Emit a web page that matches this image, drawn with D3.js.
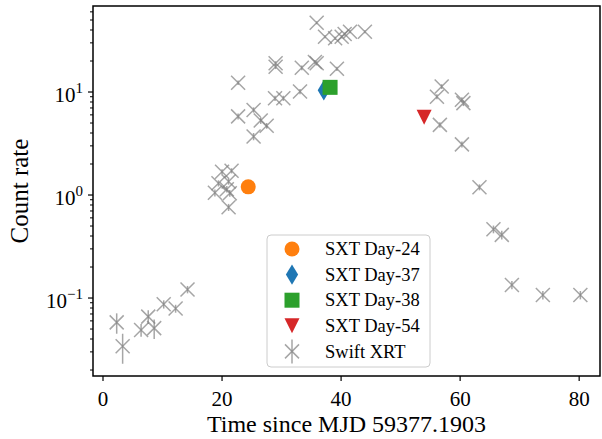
<!DOCTYPE html>
<html>
<head>
<meta charset="utf-8">
<script src="https://cdn.jsdelivr.net/npm/d3@7"></script>
<style>
  html, body { margin: 0; padding: 0; background: #fff; }
  svg { display: block; }
  text { font-family: "Liberation Serif", "Times New Roman", serif; fill: #000; }
</style>
</head>
<body>
<div id="chart"></div>
<script>
// ---- data ----
const swiftTime = [2.3, 3.3, 6.4, 7.6, 8.6, 10.2, 12.2, 14.2,
  18.8, 19.4, 20.0, 20.8, 21.1, 21.3, 21.6, 21.1,
  22.7, 22.7, 25.3, 25.3, 26.5, 27.5, 28.9, 30.3, 33.1,
  29.0, 29.0, 33.4, 35.6, 35.9, 39.3,
  35.9, 37.3, 39.0, 40.1, 40.6, 41.5, 44.0,
  56.9, 56.1, 60.3, 60.55, 56.6, 60.3, 63.25,
  65.6, 67.0, 68.7, 73.9, 80.2];
const swiftRate = [0.058, 0.034, 0.049, 0.066, 0.051, 0.087, 0.079, 0.121,
  1.05, 1.30, 1.68, 1.14, 1.35, 1.04, 1.72, 0.76,
  12.3, 5.8, 6.7, 3.7, 5.3, 4.7, 8.7, 8.7, 10.1,
  19.0, 17.6, 17.2, 19.6, 19.0, 16.8,
  47.0, 34.4, 33.2, 34.4, 36.5, 38.5, 38.5,
  11.3, 9.0, 8.4, 7.8, 4.8, 3.1, 1.19,
  0.465, 0.41, 0.134, 0.107, 0.107];
const swiftErr = [0.013, 0.011, 0.007, 0.010, 0.011, 0.008, 0.007, 0.010,
  0.08, 0.09, 0.10, 0.08, 0.09, 0.08, 0.10, 0.06,
  0.6, 0.4, 0.4, 0.3, 0.4, 0.3, 0.5, 0.5, 0.6,
  0.9, 0.9, 0.9, 0.9, 0.9, 0.8,
  1.5, 1.2, 1.2, 1.2, 1.2, 1.3, 1.3,
  0.6, 0.5, 0.5, 0.5, 0.3, 0.2, 0.08,
  0.04, 0.04, 0.012, 0.010, 0.010];

const sxtLabels = ["SXT Day-24", "SXT Day-37", "SXT Day-38", "SXT Day-54"];
const sxtTime = [24.4, 37.1, 38.15, 53.95];
const sxtRate = [1.2, 10.4, 11.1, 5.7];
const swiftLabel = "Swift XRT";

const xTicks = [0, 20, 40, 60, 80];
const yTickExps = [-1, 0, 1];
const xLabel = "Time since MJD 59377.1903";
const yLabel = "Count rate";

// ---- styles ----
const sxtColors = ["#ff7f0e", "#1f77b4", "#2ca02c", "#d62728"];
const sxtShapes = ["circle", "thin_diamond", "square", "triangle_down"];

const W = 602, H = 439;
const M = { left: 93, right: 600, top: 6, bottom: 376 };

const svg = d3.select("#chart").append("svg")
  .attr("width", W).attr("height", H);

const x = d3.scaleLinear().domain([-1.68, 83.5]).range([M.left, M.right]);
const y = d3.scaleLog().domain([Math.pow(10, -1.757), Math.pow(10, 1.835)]).range([M.bottom, M.top]);

// ---- marker drawing ----
const MS = 15;
function drawMarker(g, shape, cx, cy, color) {
  const s = MS;
  if (shape === "circle") {
    g.append("circle").attr("cx", cx).attr("cy", cy).attr("r", s / 2).attr("fill", color);
  } else if (shape === "square") {
    g.append("rect").attr("x", cx - s / 2).attr("y", cy - s / 2)
      .attr("width", s).attr("height", s).attr("fill", color);
  } else if (shape === "thin_diamond") {
    const h = s * 0.68, w = h * 0.6;
    g.append("path").attr("d", `M${cx},${cy - h} L${cx + w},${cy} L${cx},${cy + h} L${cx - w},${cy} Z`)
      .attr("fill", color);
  } else if (shape === "triangle_down") {
    const h = s / 2;
    g.append("path").attr("d", `M${cx - h},${cy - h} L${cx + h},${cy - h} L${cx},${cy + h} Z`)
      .attr("fill", color);
  }
}
function drawX(g, cx, cy) {
  const h = 7;
  g.append("path")
    .attr("d", `M${cx - h},${cy - h} L${cx + h},${cy + h} M${cx - h},${cy + h} L${cx + h},${cy - h}`)
    .attr("stroke", "#808080").attr("stroke-opacity", 0.7).attr("stroke-width", 1.5).attr("fill", "none");
}

// ---- SXT points ----
const gSxt = svg.append("g");
sxtTime.forEach((t, i) => drawMarker(gSxt, sxtShapes[i], x(t), y(sxtRate[i]), sxtColors[i]));

// ---- Swift points with error bars ----
const gSw = svg.append("g");
swiftTime.forEach((t, i) => {
  const v = swiftRate[i], e = swiftErr[i];
  gSw.append("line")
    .attr("x1", x(t)).attr("x2", x(t))
    .attr("y1", y(v - e)).attr("y2", y(v + e))
    .attr("stroke", "#808080").attr("stroke-opacity", 0.7).attr("stroke-width", 1.5);
  drawX(gSw, x(t), y(v));
});

// ---- frame ----
svg.append("rect")
  .attr("x", M.left).attr("y", M.top)
  .attr("width", M.right - M.left).attr("height", M.bottom - M.top)
  .attr("fill", "none").attr("stroke", "#000").attr("stroke-width", 1.5);

// ---- x axis ----
const gx = svg.append("g");
xTicks.forEach(t => {
  gx.append("line").attr("x1", x(t)).attr("x2", x(t))
    .attr("y1", M.bottom).attr("y2", M.bottom + 5)
    .attr("stroke", "#000").attr("stroke-width", 1.2);
  gx.append("text").attr("x", x(t)).attr("y", 406)
    .attr("text-anchor", "middle").style("font-size", "21px").text(t);
});

// ---- y axis ----
const gy = svg.append("g");
const yMinorTicks = [];
for (let e = -2; e <= 1; e++) for (let m = 2; m <= 9; m++) yMinorTicks.push(m * Math.pow(10, e));
yMinorTicks.filter(v => v >= y.domain()[0] && v <= y.domain()[1]).forEach(v => {
  gy.append("line").attr("x1", M.left - 3).attr("x2", M.left)
    .attr("y1", y(v)).attr("y2", y(v)).attr("stroke", "#000").attr("stroke-width", 1);
});
yTickExps.forEach(e => {
  const v = Math.pow(10, e);
  gy.append("line").attr("x1", M.left - 5).attr("x2", M.left)
    .attr("y1", y(v)).attr("y2", y(v)).attr("stroke", "#000").attr("stroke-width", 1.2);
  const tx = gy.append("text").attr("x", 83).attr("y", y(v) + 10)
    .attr("text-anchor", "end").style("font-size", "21px");
  tx.append("tspan").text("10");
  tx.append("tspan").attr("dy", -9).style("font-size", "15px")
    .text(e < 0 ? "\u2212" + Math.abs(e) : String(e));
});

// ---- axis labels ----
svg.append("text").attr("x", (M.left + M.right) / 2).attr("y", 432)
  .attr("text-anchor", "middle").style("font-size", "24px").text(xLabel);
svg.append("text").attr("transform", `translate(28,${(M.top + M.bottom) / 2}) rotate(-90)`)
  .attr("text-anchor", "middle").style("font-size", "25px").text(yLabel);

// ---- legend ----
const lg = svg.append("g");
lg.append("rect").attr("x", 267).attr("y", 235).attr("width", 163).attr("height", 132)
  .attr("rx", 4).attr("fill", "#fff").attr("fill-opacity", 0.8)
  .attr("stroke", "#ccc").attr("stroke-width", 1);
const legY0 = 249, legDY = 25.6, legMX = 292, legTX = 325;
sxtLabels.forEach((lab, i) => {
  const ly = legY0 + i * legDY;
  drawMarker(lg, sxtShapes[i], legMX, ly, sxtColors[i]);
  lg.append("text").attr("x", legTX).attr("y", ly).attr("dy", "0.33em")
    .style("font-size", "18.5px").text(lab);
});
{
  const ly = legY0 + 4 * legDY;
  lg.append("line").attr("x1", legMX).attr("x2", legMX).attr("y1", ly - 12).attr("y2", ly + 12)
    .attr("stroke", "#808080").attr("stroke-opacity", 0.7).attr("stroke-width", 1.5);
  drawX(lg, legMX, ly);
  lg.append("text").attr("x", legTX).attr("y", ly).attr("dy", "0.33em")
    .style("font-size", "18.5px").text(swiftLabel);
}
</script>
</body>
</html>
